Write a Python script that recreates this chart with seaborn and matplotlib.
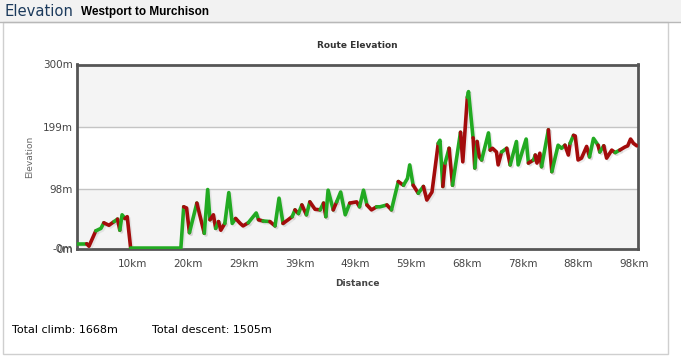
import numpy as np
import pandas as pd
import matplotlib
matplotlib.use('Agg')
import matplotlib.pyplot as plt
import matplotlib.patheffects as pe
import seaborn as sns

# --- elevation profile (km, m) ---
km = [0.0, 1.7, 2.1, 3.3, 4.2, 4.7, 5.6, 6.5, 7.1, 7.5, 7.9, 8.4, 8.8, 9.4,
      18.2, 18.7, 19.2, 19.7, 21.0, 22.3, 22.9, 23.3, 23.9, 24.3, 24.8, 25.2,
      25.9, 26.6, 27.2, 27.8, 28.6, 29.1, 30.0, 31.4, 31.8, 32.6, 33.8, 34.7,
      35.4, 36.1, 37.0, 37.7, 38.2, 38.8, 39.4, 40.2, 40.8, 41.7, 42.6, 43.2,
      43.6, 44.0, 44.9, 45.5, 46.2, 47.0, 47.8, 49.0, 49.5, 50.2, 50.8, 51.6,
      52.5, 53.1, 54.3, 55.1, 56.3, 57.2, 57.9, 58.3, 58.9, 59.8, 60.7, 61.3,
      62.2, 63.3, 63.6, 64.1, 64.5, 65.2, 65.8, 67.2, 67.6, 68.4, 68.6, 69.4,
      69.7, 70.1, 70.5, 70.9, 72.1, 72.4, 72.8, 73.5, 73.8, 74.4, 75.3, 75.9,
      77.0, 77.3, 78.7, 79.1, 80.0, 80.3, 80.6, 81.1, 81.4, 82.6, 83.2, 84.3,
      84.9, 85.5, 86.1, 86.4, 87.0, 87.3, 87.8, 88.4, 89.3, 89.8, 90.5, 91.3,
      91.6, 92.3, 92.8, 93.7, 94.3, 95.1, 96.0, 96.5, 97.0, 97.5, 98.1]
elev = [9, 9, 5, 30, 34, 43, 39, 45, 49, 31, 56, 50, 53, 2,
        2, 69, 67, 27, 75, 26, 97, 48, 56, 34, 45, 31,
        42, 92, 42, 50, 42, 38, 43, 59, 48, 46, 45, 38,
        83, 42, 48, 53, 64, 58, 72, 56, 77, 65, 64, 75,
        53, 96, 64, 77, 93, 56, 75, 77, 69, 96, 72, 64,
        69, 69, 72, 64, 110, 104, 115, 137, 104, 91, 102, 80,
        93, 172, 177, 102, 140, 164, 104, 190, 142, 247, 256, 181,
        132, 175, 150, 145, 189, 161, 164, 158, 137, 158, 164, 137,
        175, 137, 179, 140, 145, 153, 140, 156, 134, 194, 126, 169,
        164, 169, 153, 172, 185, 184, 145, 148, 167, 150, 180, 169,
        158, 168, 148, 161, 157, 161, 166, 168, 179, 172, 168]
# colour of the segment ending at each point (g = green, r = red)
seg = ['-', 'g', 'r', 'r', 'g', 'g', 'r', 'r', 'g', 'r', 'g', 'g', 'r', 'r',
       'g', 'g', 'r', 'r', 'g', 'r', 'g', 'g', 'r', 'r', 'g', 'r',
       'r', 'g', 'g', 'g', 'r', 'r', 'r', 'g', 'g', 'r', 'g', 'r',
       'g', 'g', 'r', 'r', 'g', 'r', 'g', 'r', 'g', 'r', 'r', 'g',
       'r', 'g', 'g', 'r', 'g', 'g', 'g', 'r', 'r', 'g', 'g', 'r',
       'r', 'g', 'g', 'r', 'g', 'r', 'g', 'g', 'g', 'r', 'g', 'r',
       'r', 'r', 'g', 'g', 'r', 'g', 'r', 'g', 'r', 'r', 'g', 'g',
       'r', 'g', 'r', 'r', 'g', 'g', 'r', 'r', 'r', 'r', 'g', 'r',
       'g', 'g', 'g', 'g', 'r', 'g', 'r', 'r', 'r', 'g', 'r', 'g',
       'g', 'g', 'r', 'r', 'g', 'r', 'r', 'r', 'r', 'r', 'g', 'g',
       'r', 'g', 'r', 'r', 'r', 'g', 'r', 'r', 'r', 'r', 'r']

x_ticks = [9.76, 19.52, 29.28, 39.04, 48.8, 58.56, 68.32, 78.08, 87.84, 97.6]
x_labels = ['10km', '20km', '29km', '39km', '49km', '59km', '68km', '78km', '88km', '98km']
y_ticks = [0, 98, 199, 300]
y_labels = ['0m', '98m', '199m', '300m']

colors = {'g': '#22aa22', 'r': '#a30c0c'}

# split the profile into runs of the same colour
rows = []
run = 0
cur = seg[1]
rows.append((km[0], elev[0], str(run), cur))
for i in range(1, len(km)):
    if seg[i] != cur:
        run += 1
        cur = seg[i]
        rows.append((km[i - 1], elev[i - 1], str(run), cur))
    rows.append((km[i], elev[i], str(run), cur))
df = pd.DataFrame(rows, columns=['km', 'elev', 'run', 'col'])
pal = {r: colors[c] for r, c in df.groupby('run')['col'].first().items()}

W, H = 681, 357
fig = plt.figure(figsize=(W / 100, H / 100), dpi=100)
fig.patch.set_facecolor('white')

# header and panel frame
fig.add_artist(plt.Rectangle((0, 1 - 22 / H), 1, 22 / H, transform=fig.transFigure,
                             facecolor='#f2f2f2', edgecolor='none'))
fig.add_artist(plt.Line2D([0, 1], [1 - 22 / H, 1 - 22 / H], transform=fig.transFigure,
                          color='#b8b8b8', lw=1))
fig.add_artist(plt.Rectangle((3 / W, 3 / H), 665 / W, (H - 25) / H, transform=fig.transFigure,
                             facecolor='none', edgecolor='#cfcfcf', lw=1))
fig.text(5 / W, 1 - 11 / H, 'Elevation', color='#1b3a5c', fontsize=10.6, va='center',
         family='DejaVu Sans')
fig.text(81 / W, 1 - 12 / H, 'Westport to Murchison', color='black', fontsize=8.5,
         fontweight='bold', va='center', family='Liberation Sans')

ax = fig.add_axes([77 / W, 1 - 249.3 / H, 561 / W, 184.8 / H])
ax.set_facecolor('white')
ax.axhspan(0, 98, facecolor='#f4f4f4', edgecolor='none', zorder=0)
ax.axhspan(199, 300, facecolor='#f4f4f4', edgecolor='none', zorder=0)
for yv in [98, 199]:
    ax.axhline(yv, color='#c4c4c4', lw=1, zorder=1)

sns.lineplot(data=df, x='km', y='elev', hue='run', palette=pal, legend=False,
             sort=False, estimator=None, lw=2.6, ax=ax, zorder=3)
for ln in ax.get_lines()[2:]:
    ln.set_solid_capstyle('round')
    ln.set_solid_joinstyle('round')
    ln.set_path_effects([pe.SimpleLineShadow(offset=(1.2, -1.2), shadow_color='#999999', alpha=0.18),
                         pe.Normal()])

ax.set_xlim(0, 98.3)
ax.set_ylim(0, 300)
ax.set_xticks(x_ticks)
ax.set_xticklabels(x_labels)
ax.set_yticks(y_ticks)
ax.set_yticklabels(y_labels)
ax.tick_params(axis='both', length=0, labelsize=7.5, labelcolor='#444444')
ax.tick_params(axis='x', pad=7)
ax.tick_params(axis='y', pad=3)
ax.text(-0.007, 0.004, '-0m', transform=ax.transAxes, ha='right', va='center',
        fontsize=7.5, color='#444444')
for s in ax.spines.values():
    s.set_color('#555555')
    s.set_linewidth(2)

ax.set_xlabel('Distance', fontsize=6.5, fontweight='bold', color='#444444', labelpad=7)
ax.set_ylabel('Elevation', fontsize=6.5, color='#666666', labelpad=6)
ax.set_title('Route Elevation', fontsize=6.5, fontweight='bold', color='#333333', pad=12)

fig.text(12 / W, 1 - 330 / H, 'Total climb: 1668m', fontsize=8, va='center')
fig.text(152 / W, 1 - 330 / H, 'Total descent: 1505m', fontsize=8, va='center')

fig.savefig('out.png', dpi=100)
